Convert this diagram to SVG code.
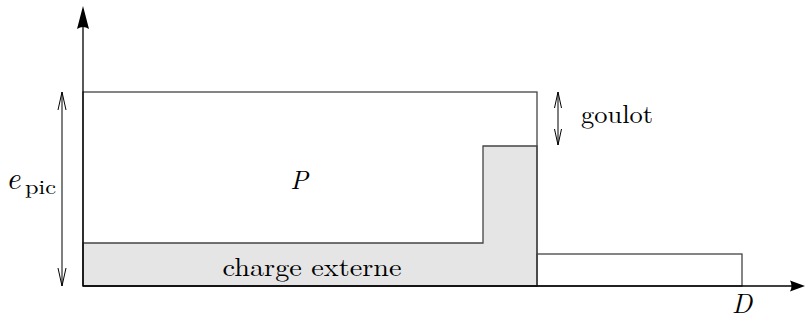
<svg xmlns="http://www.w3.org/2000/svg" width="805" height="325" viewBox="0 0 805 325">
<defs>
<style>
.box{fill:none;stroke:#444;stroke-width:1.3}
.grey{fill:#e5e5e5;stroke:#444;stroke-width:1.3}
.ax{stroke:#000;stroke-width:1.3;fill:none}
.dim{stroke:#000;stroke-width:1;fill:none}
.t{font-family:"Latin Modern Roman","Liberation Serif","Times New Roman",serif;fill:#000}
.i{font-style:italic}
</style>
</defs>
<rect width="805" height="325" fill="#fff"/>
<g id="charge">
<path class="grey" d="M83,243 H483 V146 H537 V286 H83 Z"/>
<text class="t" x="312" y="276" font-size="26" text-anchor="middle" textLength="179" lengthAdjust="spacingAndGlyphs">charge externe</text>
</g>
<g id="P">
<rect class="box" x="83" y="92" width="454" height="194"/>
<text class="t i" x="299" y="189" font-size="26" text-anchor="middle">P</text>
</g>
<g id="extra">
<rect class="box" x="537" y="254" width="205" height="32"/>
</g>
<g id="connectors">
<line class="ax" x1="83" y1="286" x2="83" y2="24"/>
<path d="M83,6 L77,29 Q83,25 89,29 Z" fill="#000"/>
<line class="ax" x1="83" y1="286" x2="793" y2="286"/>
<path d="M805,286 L790,280.5 Q793,286 790,291.5 Z" fill="#000"/>
<line class="dim" x1="62" y1="92" x2="62" y2="286"/>
<path class="dim" d="M58,110 L62,92 L66,110 M58,268 L62,286 L66,268"/>
<line class="dim" x1="558" y1="92" x2="558" y2="145"/>
<path class="dim" d="M554.5,108 L558,92 L561.5,108 M554.5,129 L558,145 L561.5,129"/>
</g>
<g id="labels">
<text class="t i" x="6" y="189" font-size="31">e</text>
<text class="t" x="25" y="194" font-size="20" textLength="31" lengthAdjust="spacingAndGlyphs">pic</text>
<text class="t" x="581" y="123" font-size="26" textLength="72" lengthAdjust="spacingAndGlyphs">goulot</text>
<text class="t i" x="742" y="313" font-size="27" text-anchor="middle">D</text>
</g>
</svg>
